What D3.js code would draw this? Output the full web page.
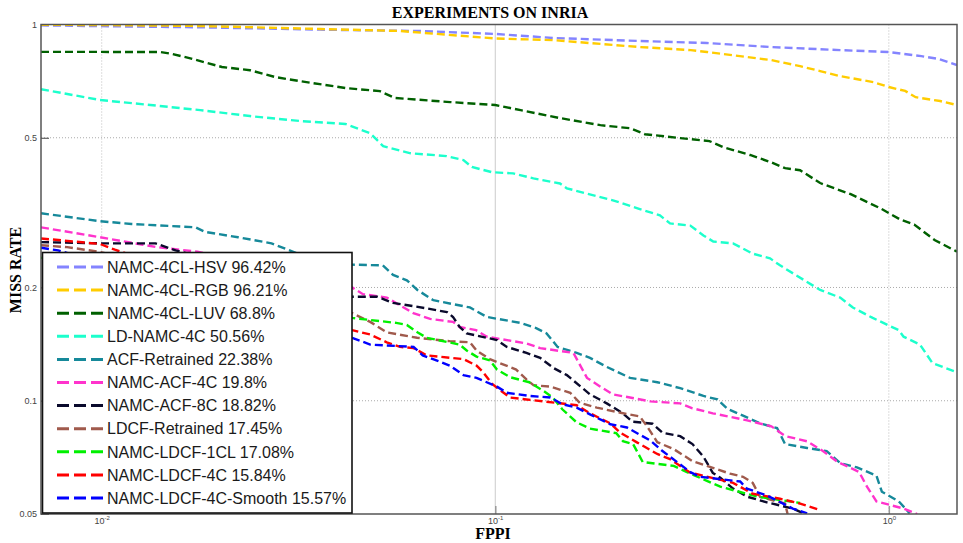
<!DOCTYPE html>
<html>
<head>
<meta charset="utf-8">
<script src="https://cdn.jsdelivr.net/npm/d3@7"></script>
<style>
  body { margin: 0; background: #fff; }
  svg { display: block; }
</style>
</head>
<body>
<div id="chart"></div>
<script>
// Miss rate vs FPPI. Each point is [fppi, missRate].
var labels = [
  'NAMC-4CL-HSV 96.42%', 'NAMC-4CL-RGB 96.21%', 'NAMC-4CL-LUV 68.8%', 'LD-NAMC-4C 50.56%',
  'ACF-Retrained 22.38%', 'NAMC-ACF-4C 19.8%', 'NAMC-ACF-8C 18.82%', 'LDCF-Retrained 17.45%',
  'NAMC-LDCF-1CL 17.08%', 'NAMC-LDCF-4C 15.84%', 'NAMC-LDCF-4C-Smooth 15.57%'
];
var colors = ['#8484ff', '#ffcc00', '#006000', '#1cffcc', '#16899a', '#ff33cc',
  '#0a0a2c', '#a05a4c', '#00f000', '#ff0000', '#0000ff'];

var hsv = [[0.00701, 0.995], [0.0099, 0.99], [0.0178, 0.983], [0.0359, 0.969], [0.0644, 0.961],
  [0.1, 0.944], [0.14, 0.921], [0.233, 0.904], [0.345, 0.893], [0.503, 0.871], [0.752, 0.855],
  [1.0, 0.845], [1.21, 0.824], [1.34, 0.81], [1.49, 0.78]];
var rgb = [[0.00701, 0.998], [0.0099, 0.997], [0.0178, 0.991], [0.0359, 0.973], [0.0573, 0.961],
  [0.1, 0.918], [0.14, 0.909], [0.233, 0.871], [0.314, 0.855], [0.345, 0.845], [0.503, 0.804],
  [0.595, 0.775], [0.669, 0.752], [0.752, 0.729], [0.913, 0.703], [1.0, 0.682], [1.1, 0.666],
  [1.17, 0.641], [1.35, 0.626], [1.49, 0.611]];
var luv = [[0.00701, 0.846], [0.0141, 0.845], [0.0151, 0.835], [0.0167, 0.814], [0.0202, 0.771],
  [0.0238, 0.756], [0.0276, 0.725], [0.0319, 0.707], [0.0416, 0.678], [0.0509, 0.665],
  [0.0556, 0.638], [0.0768, 0.622], [0.1, 0.611], [0.116, 0.592], [0.146, 0.564], [0.185, 0.54],
  [0.22, 0.53], [0.24, 0.511], [0.295, 0.499], [0.35, 0.49], [0.38, 0.472], [0.444, 0.45],
  [0.5, 0.431], [0.545, 0.415], [0.595, 0.41], [0.669, 0.379], [0.8, 0.354], [0.95, 0.325],
  [1.07, 0.303], [1.16, 0.294], [1.31, 0.267], [1.49, 0.249]];
var ldNamc = [[0.00701, 0.673], [0.0099, 0.63], [0.0133, 0.611], [0.0178, 0.592], [0.0238, 0.571],
  [0.0319, 0.554], [0.0416, 0.544], [0.0481, 0.514], [0.0519, 0.475], [0.0606, 0.455],
  [0.0752, 0.447], [0.083, 0.436], [0.0872, 0.418], [0.098, 0.405], [0.111, 0.402], [0.125, 0.39],
  [0.146, 0.378], [0.152, 0.367], [0.171, 0.355], [0.199, 0.341], [0.233, 0.323], [0.262, 0.311],
  [0.278, 0.296], [0.313, 0.292], [0.338, 0.275], [0.358, 0.265], [0.402, 0.262], [0.451, 0.246],
  [0.499, 0.239], [0.529, 0.229], [0.61, 0.209], [0.669, 0.197], [0.752, 0.188], [0.81, 0.177],
  [0.91, 0.166], [1.06, 0.154], [1.09, 0.148], [1.2, 0.141], [1.29, 0.126], [1.49, 0.119]];
var acfRetrained = [[0.00701, 0.315], [0.0099, 0.3], [0.0119, 0.295], [0.0173, 0.289], [0.0183, 0.281],
  [0.0222, 0.272], [0.027, 0.262], [0.0315, 0.246], [0.0348, 0.245], [0.0432, 0.23], [0.0518, 0.229],
  [0.055, 0.216], [0.0596, 0.209], [0.0634, 0.197], [0.0696, 0.185], [0.0862, 0.177], [0.0952, 0.167],
  [0.116, 0.161], [0.127, 0.156], [0.135, 0.151], [0.144, 0.139], [0.161, 0.134], [0.174, 0.13],
  [0.192, 0.123], [0.22, 0.115], [0.258, 0.112], [0.295, 0.108], [0.338, 0.103], [0.367, 0.1008],
  [0.389, 0.0952], [0.419, 0.092], [0.471, 0.0871], [0.52, 0.0846], [0.545, 0.0767], [0.62, 0.0749],
  [0.695, 0.0735], [0.752, 0.0683], [0.83, 0.0665], [0.93, 0.0632], [0.96, 0.0573], [1.06, 0.054],
  [1.13, 0.0502]];
var acf4c = [[0.00701, 0.289], [0.0099, 0.272], [0.0138, 0.256], [0.0175, 0.249], [0.0252, 0.229],
  [0.0433, 0.2], [0.0461, 0.192], [0.053, 0.188], [0.0619, 0.171], [0.0683, 0.165], [0.0781, 0.162],
  [0.0812, 0.157], [0.0894, 0.154], [0.0952, 0.148], [0.12, 0.142], [0.13, 0.138], [0.158, 0.134],
  [0.171, 0.115], [0.185, 0.109], [0.199, 0.104], [0.248, 0.0996], [0.295, 0.0984], [0.317, 0.0955],
  [0.357, 0.0926], [0.434, 0.0888], [0.503, 0.0855], [0.545, 0.0806], [0.62, 0.078], [0.68, 0.0735],
  [0.74, 0.0688], [0.84, 0.0647], [0.88, 0.0591], [0.93, 0.054], [1.09, 0.0517], [1.18, 0.05]];
var acf8c = [[0.00701, 0.264], [0.0099, 0.262], [0.0137, 0.262], [0.0154, 0.251], [0.0252, 0.219],
  [0.0433, 0.189], [0.0501, 0.189], [0.055, 0.182], [0.067, 0.176], [0.0754, 0.172], [0.0781, 0.167],
  [0.0812, 0.157], [0.0846, 0.151], [0.101, 0.145], [0.107, 0.139], [0.12, 0.134], [0.13, 0.13],
  [0.141, 0.122], [0.152, 0.117], [0.174, 0.104], [0.192, 0.0984], [0.21, 0.0929], [0.223, 0.088],
  [0.251, 0.0869], [0.266, 0.0822], [0.295, 0.0805], [0.317, 0.0767], [0.338, 0.071], [0.357, 0.0643],
  [0.373, 0.0624], [0.402, 0.0584], [0.436, 0.0556], [0.49, 0.0537], [0.57, 0.0517], [0.613, 0.05]];
var ldcfRetrained = [[0.00701, 0.259], [0.00817, 0.256], [0.0098, 0.249], [0.0178, 0.216],
  [0.0433, 0.171], [0.0481, 0.162], [0.053, 0.152], [0.0633, 0.147], [0.0766, 0.144], [0.0862, 0.143],
  [0.0896, 0.136], [0.0969, 0.129], [0.113, 0.121], [0.12, 0.114], [0.125, 0.11], [0.138, 0.109],
  [0.155, 0.105], [0.164, 0.0987], [0.181, 0.0959], [0.208, 0.0929], [0.233, 0.0908], [0.243, 0.0855],
  [0.258, 0.0776], [0.284, 0.0744], [0.317, 0.0691], [0.395, 0.064], [0.426, 0.0628], [0.451, 0.0605],
  [0.471, 0.0555], [0.545, 0.0533], [0.553, 0.05]];
var ldcf1cl = [[0.00701, 0.24], [0.0178, 0.197], [0.0433, 0.166], [0.056, 0.161], [0.0596, 0.159],
  [0.0634, 0.152], [0.067, 0.147], [0.0812, 0.141], [0.0846, 0.136], [0.0896, 0.131], [0.0969, 0.128],
  [0.101, 0.121], [0.109, 0.1155], [0.122, 0.112], [0.133, 0.106], [0.14, 0.102], [0.148, 0.0949],
  [0.161, 0.0876], [0.174, 0.0843], [0.203, 0.082], [0.211, 0.0781], [0.224, 0.0767], [0.237, 0.0687],
  [0.284, 0.0671], [0.307, 0.0646], [0.373, 0.0591], [0.464, 0.0556], [0.595, 0.0535]];
var ldcf4c = [[0.00701, 0.27], [0.0099, 0.261], [0.0108, 0.252], [0.0212, 0.199], [0.0433, 0.154],
  [0.0481, 0.15], [0.053, 0.143], [0.0573, 0.139], [0.062, 0.138], [0.067, 0.132], [0.083, 0.129],
  [0.0896, 0.124], [0.0932, 0.119], [0.098, 0.111], [0.105, 0.105], [0.109, 0.102], [0.12, 0.1008],
  [0.146, 0.0985], [0.161, 0.0973], [0.174, 0.0926], [0.196, 0.0871], [0.208, 0.0822], [0.229, 0.0775],
  [0.258, 0.0722], [0.278, 0.07], [0.313, 0.0644], [0.402, 0.0605], [0.451, 0.0566], [0.529, 0.0549],
  [0.595, 0.0533], [0.669, 0.0512]];
var ldcf4cSmooth = [[0.00701, 0.255], [0.00775, 0.251], [0.0178, 0.194], [0.0433, 0.147],
  [0.0481, 0.141], [0.062, 0.139], [0.0654, 0.132], [0.0724, 0.127], [0.0766, 0.124], [0.083, 0.117],
  [0.0896, 0.115], [0.101, 0.109], [0.107, 0.105], [0.122, 0.103], [0.138, 0.102], [0.148, 0.0979],
  [0.161, 0.0959], [0.174, 0.092], [0.196, 0.0866], [0.216, 0.0849], [0.248, 0.0783], [0.266, 0.0735],
  [0.313, 0.0646], [0.331, 0.0628], [0.419, 0.061], [0.436, 0.0584], [0.49, 0.056], [0.57, 0.0517],
  [0.62, 0.0502]];

var curves = [hsv, rgb, luv, ldNamc, acfRetrained, acf4c, acf8c, ldcfRetrained, ldcf1cl, ldcf4c, ldcf4cSmooth];
var xTicks = [0.01, 0.1, 1];
var xTickExp = ['-2', '-1', '0'];
var yTicks = [0.05, 0.1, 0.2, 0.5, 1];
var yTickLabels = ['0.05', '0.1', '0.2', '0.5', '1'];

(function () {
  var width = 963, height = 543;
  // plot box in pixels (note: "top" is a reserved window global, so prefix these)
  var plotLeft = 41, plotRight = 957, plotTop = 24.5, plotBottom = 514;

  var svg = d3.select('#chart').append('svg')
    .attr('width', width).attr('height', height);

  var x = d3.scaleLog().domain([0.00701, 1.49]).range([plotLeft, plotRight]);
  var y = d3.scaleLog().domain([0.05, 1]).range([plotBottom, plotTop]);

  svg.append('defs').append('clipPath').attr('id', 'plotClip')
    .append('rect').attr('x', plotLeft).attr('y', plotTop)
    .attr('width', plotRight - plotLeft).attr('height', plotBottom - plotTop);

  // Grid: horizontal dotted, vertical at decades (10^-1 is solid like the original)
  var grid = svg.append('g').attr('class', 'grid');
  grid.selectAll('line.hgrid').data([0.1, 0.2, 0.5]).enter().append('line')
    .attr('x1', plotLeft).attr('x2', plotRight)
    .attr('y1', function (d) { return y(d); }).attr('y2', function (d) { return y(d); })
    .attr('stroke', '#aaa').attr('stroke-width', 1).attr('stroke-dasharray', '1,2');
  grid.selectAll('line.vgrid').data(xTicks).enter().append('line')
    .attr('x1', function (d) { return x(d); }).attr('x2', function (d) { return x(d); })
    .attr('y1', plotTop).attr('y2', plotBottom)
    .attr('stroke', function (d) { return d === 0.1 ? '#ccc' : '#bbb'; })
    .attr('stroke-width', 1)
    .attr('stroke-dasharray', function (d) { return d === 0.1 ? null : '1,2'; });

  // Axes with inward ticks
  var yAxis = d3.axisLeft(y).tickValues(yTicks).tickSizeInner(-8).tickSizeOuter(0).tickPadding(4)
    .tickFormat(function (d, i) { return yTickLabels[i]; });
  var gy = svg.append('g').attr('transform', 'translate(' + plotLeft + ',0)').call(yAxis);
  gy.select('.domain').remove();
  gy.selectAll('line').attr('stroke', '#444');
  gy.selectAll('text').attr('fill', '#444').style('font', '9px "Liberation Sans", Arial, sans-serif');

  var xAxis = d3.axisBottom(x).tickValues(xTicks).tickSizeInner(-8).tickSizeOuter(0).tickPadding(4)
    .tickFormat(function () { return ''; });
  var gx = svg.append('g').attr('transform', 'translate(0,' + plotBottom + ')').call(xAxis);
  gx.select('.domain').remove();
  gx.selectAll('line').attr('stroke', '#999').attr('stroke-width', 1.5);
  gx.selectAll('text').each(function (d, i) {
    var t = d3.select(this).attr('fill', '#444').style('font', '9px "Liberation Sans", Arial, sans-serif');
    t.append('tspan').text('10');
    t.append('tspan').attr('dy', -4).style('font-size', '6px').text(xTickExp[i]);
  });

  // Curves
  var line = d3.line().x(function (d) { return x(d[0]); }).y(function (d) { return y(d[1]); });
  svg.append('g').attr('clip-path', 'url(#plotClip)')
    .selectAll('path').data(curves).enter().append('path')
    .attr('d', line)
    .attr('fill', 'none')
    .attr('stroke', function (d, i) { return colors[i]; })
    .attr('stroke-width', 2.4)
    .attr('stroke-dasharray', '8,4');

  // Frame
  svg.append('rect').attr('x', plotLeft).attr('y', plotTop)
    .attr('width', plotRight - plotLeft).attr('height', plotBottom - plotTop)
    .attr('fill', 'none').attr('stroke', '#555').attr('stroke-width', 1.5);

  // Legend
  var legend = svg.append('g');
  legend.append('rect').attr('x', 42.5).attr('y', 252.5).attr('width', 309.5).attr('height', 260.5)
    .attr('fill', '#fff').attr('stroke', '#111').attr('stroke-width', 1.6);
  var rows = legend.selectAll('g.row').data(labels).enter().append('g')
    .attr('transform', function (d, i) { return 'translate(0,' + (267 + i * 23.1) + ')'; });
  rows.append('line').attr('x1', 57).attr('x2', 103).attr('y1', 0).attr('y2', 0)
    .attr('stroke', function (d, i) { return colors[i]; })
    .attr('stroke-width', 3).attr('stroke-dasharray', '12,5');
  rows.append('text').attr('x', 107).attr('dy', '0.36em')
    .attr('fill', '#1a1a1a')
    .style('font', '16px "Liberation Sans", Arial, sans-serif')
    .text(function (d) { return d; });

  // Titles
  svg.append('text').attr('x', 490).attr('y', 18).attr('text-anchor', 'middle')
    .style('font', 'bold 16px "Liberation Serif", "Times New Roman", serif')
    .text('EXPERIMENTS ON INRIA');
  svg.append('text').attr('x', 493).attr('y', 539).attr('text-anchor', 'middle')
    .style('font', 'bold 16px "Liberation Serif", "Times New Roman", serif')
    .text('FPPI');
  svg.append('text').attr('transform', 'translate(21,270) rotate(-90)').attr('text-anchor', 'middle')
    .style('font', 'bold 16px "Liberation Serif", "Times New Roman", serif')
    .text('MISS RATE');
})();
</script>
</body>
</html>
